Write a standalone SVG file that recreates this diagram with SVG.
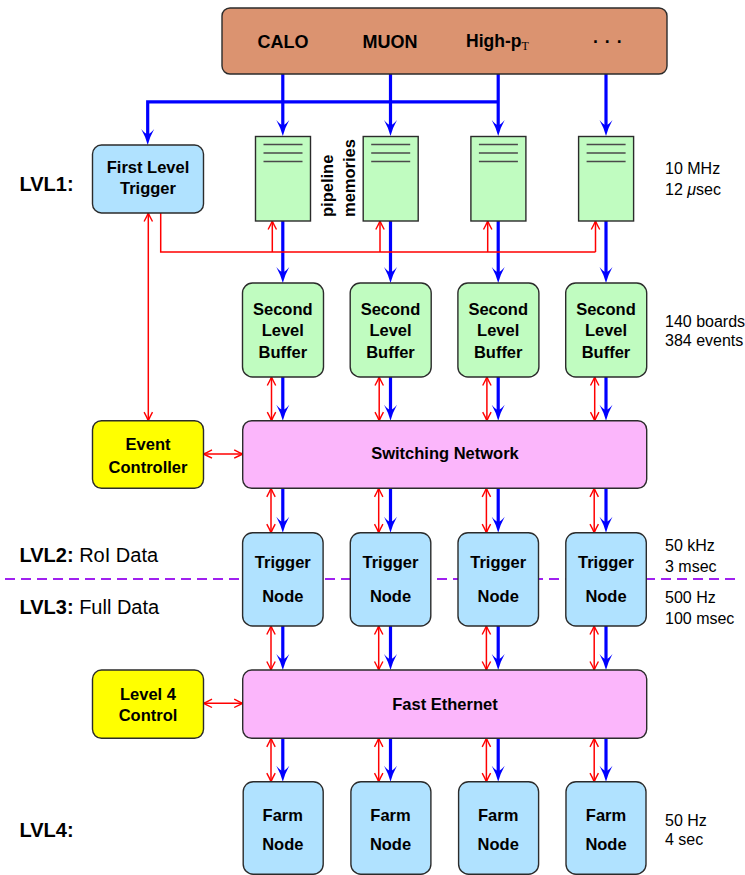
<svg xmlns="http://www.w3.org/2000/svg" width="745" height="875" viewBox="0 0 745 875">
  <style>
    text { font-family: "Liberation Sans", Arial, sans-serif; fill: #000; }
    .lbl { font-size: 16.5px; font-weight: bold; text-anchor: middle; }
    .vlbl { font-size: 16.5px; font-weight: bold; text-anchor: start; }
    .top { font-size: 18px; font-weight: bold; text-anchor: middle; }
    .topl { font-size: 17.5px; font-weight: bold; text-anchor: start; }
    .side { font-size: 16px; }
    .lvl { font-size: 20px; }
    .lvlb { font-weight: bold; }
    .box { stroke: #2b2b2b; stroke-width: 1.4; }
    .det { fill: #db9370; }
    .blue { fill: #b0e2ff; }
    .green { fill: #c0fcc0; }
    .pink { fill: #fbb6fb; }
    .yellow { fill: #ffff00; }
    .mline { stroke: #4a4a4a; stroke-width: 1.6; }
    .data { fill: none; stroke: #0000ff; stroke-width: 3.2; stroke-linejoin: miter; }
    .ctrl { fill: none; stroke: #ff0000; stroke-width: 1.5; }
    .arrB { marker-end: url(#headB); }
    .arrR { marker-end: url(#headR); }
    .arrRR { marker-start: url(#headR); marker-end: url(#headR); }
    .split { stroke: #a020f0; stroke-width: 1.8; stroke-dasharray: 10 6; fill: none; }
  </style>
  <defs>
    <!-- filled data-flow arrowhead; tip sits 10px beyond the path end -->
    <marker id="headB" markerUnits="userSpaceOnUse" viewBox="-17 -8 18 16" markerWidth="18" markerHeight="16" refX="-10" refY="0" orient="auto" overflow="visible">
      <path d="M0,0 Q-8,-2 -16,-6.5 Q-11,-2.5 -11,0 Q-11,2.5 -16,6.5 Q-8,2 0,0 Z" fill="#0000ff"/>
    </marker>
    <!-- open control-signal arrowhead -->
    <marker id="headR" markerUnits="userSpaceOnUse" viewBox="-10 -6 11 12" markerWidth="11" markerHeight="12" refX="0" refY="0" orient="auto-start-reverse" overflow="visible">
      <path d="M-8.5,-4.2 Q-3,-1.2 0,0 Q-3,1.2 -8.5,4.2" fill="none" stroke="#ff0000" stroke-width="1.4"/>
    </marker>
  </defs>

  <!-- level labels -->
  <g id="levels">
    <text class="lvl lvlb" x="19.5" y="190.5">LVL1:</text>
    <text class="lvl" x="19.5" y="561.7"><tspan class="lvlb">LVL2:</tspan> RoI Data</text>
    <text class="lvl" x="19.5" y="613.5"><tspan class="lvlb">LVL3:</tspan> Full Data</text>
    <text class="lvl lvlb" x="19.5" y="837">LVL4:</text>
  </g>

  <!-- rates and latencies -->
  <g id="rates">
    <text class="side" x="665" y="174">10 MHz</text>
    <text class="side" x="665" y="195">12 <tspan font-style="italic">μ</tspan>sec</text>
    <text class="side" x="665" y="327">140 boards</text>
    <text class="side" x="665" y="346">384 events</text>
    <text class="side" x="665" y="550.5">50 kHz</text>
    <text class="side" x="665" y="571.5">3 msec</text>
    <text class="side" x="665" y="602.7">500 Hz</text>
    <text class="side" x="665" y="624">100 msec</text>
    <text class="side" x="665" y="825.7">50 Hz</text>
    <text class="side" x="665" y="845">4 sec</text>
  </g>

  <!-- LVL2 / LVL3 boundary -->
  <line class="split" x1="5" y1="579" x2="740" y2="579"/>

  <!-- connectors -->
  <g id="connectors">
    <!-- detector readout -->
    <path class="data arrB" d="M282.8,74 V126"/>
    <path class="data arrB" d="M390.5,74 V126"/>
    <path class="data arrB" d="M498.2,74 V126"/>
    <path class="data arrB" d="M606,74 V126"/>
    <path class="data arrB" d="M498.2,101.8 H147.7 V135"/>
    <!-- pipeline to second level buffers -->
    <path class="data arrB" d="M282.8,221 V273"/>
    <path class="data arrB" d="M390.5,221 V273"/>
    <path class="data arrB" d="M498.2,221 V273"/>
    <path class="data arrB" d="M606,221 V273"/>
    <!-- level 1 accept -->
    <path class="ctrl" d="M160.7,213 V252 H595.5"/>
    <path class="ctrl arrR" d="M272.3,252 V221"/>
    <path class="ctrl arrR" d="M380,252 V221"/>
    <path class="ctrl arrR" d="M487.7,252 V221"/>
    <path class="ctrl arrR" d="M595.5,252 V221"/>
    <path class="ctrl arrRR" d="M148.3,213 V420.7"/>
    <!-- buffers to switching network -->
    <path class="data arrB" d="M282.8,377 V410.7"/>
    <path class="data arrB" d="M390.5,377 V410.7"/>
    <path class="data arrB" d="M498.2,377 V410.7"/>
    <path class="data arrB" d="M606,377 V410.7"/>
    <path class="ctrl arrRR" d="M271.5,377 V420.7"/>
    <path class="ctrl arrRR" d="M379.2,377 V420.7"/>
    <path class="ctrl arrRR" d="M486.9,377 V420.7"/>
    <path class="ctrl arrRR" d="M594.7,377 V420.7"/>
    <path class="ctrl arrRR" d="M203.5,454 H242.7"/>
    <!-- switching network to trigger nodes -->
    <path class="data arrB" d="M282.8,488.3 V522.7"/>
    <path class="data arrB" d="M390.5,488.3 V522.7"/>
    <path class="data arrB" d="M498.2,488.3 V522.7"/>
    <path class="data arrB" d="M606,488.3 V522.7"/>
    <path class="ctrl arrRR" d="M271,488.3 V532.7"/>
    <path class="ctrl arrRR" d="M378.7,488.3 V532.7"/>
    <path class="ctrl arrRR" d="M486.4,488.3 V532.7"/>
    <path class="ctrl arrRR" d="M594.2,488.3 V532.7"/>
    <!-- trigger nodes to fast ethernet -->
    <path class="data arrB" d="M282.8,626 V660"/>
    <path class="data arrB" d="M390.5,626 V660"/>
    <path class="data arrB" d="M498.2,626 V660"/>
    <path class="data arrB" d="M606,626 V660"/>
    <path class="ctrl arrRR" d="M271,626 V670"/>
    <path class="ctrl arrRR" d="M378.7,626 V670"/>
    <path class="ctrl arrRR" d="M486.4,626 V670"/>
    <path class="ctrl arrRR" d="M594.2,626 V670"/>
    <path class="ctrl arrRR" d="M203.5,703.3 H242.7"/>
    <!-- fast ethernet to farm nodes -->
    <path class="data arrB" d="M282.8,738.3 V771.7"/>
    <path class="data arrB" d="M390.5,738.3 V771.7"/>
    <path class="data arrB" d="M498.2,738.3 V771.7"/>
    <path class="data arrB" d="M606,738.3 V771.7"/>
    <path class="ctrl arrRR" d="M271,738.3 V781.7"/>
    <path class="ctrl arrRR" d="M378.7,738.3 V781.7"/>
    <path class="ctrl arrRR" d="M486.4,738.3 V781.7"/>
    <path class="ctrl arrRR" d="M594.2,738.3 V781.7"/>
  </g>

  <!-- detectors -->
  <g id="detectors">
    <rect class="box det" x="222" y="8" width="445" height="66" rx="8"/>
    <text class="top" x="283" y="48">CALO</text>
    <text class="top" x="390" y="48">MUON</text>
    <text class="topl" x="466" y="47">High-p<tspan font-family="'Liberation Serif', serif" font-weight="normal" font-size="12px" dy="2.5">T</tspan></text>
    <text class="topl" x="593" y="48" letter-spacing="6">···</text>
  </g>

  <g id="first-level-trigger">
    <rect class="box blue" x="92.5" y="145" width="111" height="68" rx="9"/>
    <text class="lbl" x="148" y="173">First Level</text>
    <text class="lbl" x="148" y="193.5">Trigger</text>
  </g>

  <!-- pipeline memories -->
  <g id="pipeline-1">
    <rect class="box green" x="255.5" y="136.5" width="55" height="84.5"/>
    <path class="mline" d="M263.5,144.5 H302.5 M263.5,153 H302.5 M263.5,161.5 H302.5"/>
  </g>
  <g id="pipeline-2">
    <rect class="box green" x="363.2" y="136.5" width="55" height="84.5"/>
    <path class="mline" d="M371.2,144.5 H410.2 M371.2,153 H410.2 M371.2,161.5 H410.2"/>
  </g>
  <g id="pipeline-3">
    <rect class="box green" x="470.9" y="136.5" width="55" height="84.5"/>
    <path class="mline" d="M478.9,144.5 H517.9 M478.9,153 H517.9 M478.9,161.5 H517.9"/>
  </g>
  <g id="pipeline-4">
    <rect class="box green" x="578.6" y="136.5" width="55" height="84.5"/>
    <path class="mline" d="M586.6,144.5 H625.6 M586.6,153 H625.6 M586.6,161.5 H625.6"/>
  </g>
  <g id="pipeline-label">
    <text class="vlbl" transform="translate(333,217) rotate(-90)">pipeline</text>
    <text class="vlbl" transform="translate(355,217) rotate(-90)">memories</text>
  </g>

  <!-- second level buffers -->
  <g id="slb-1">
    <rect class="box green" x="242.5" y="283" width="81" height="94" rx="10"/>
    <text class="lbl" x="282.8" y="315">Second</text>
    <text class="lbl" x="282.8" y="336">Level</text>
    <text class="lbl" x="282.8" y="357.5">Buffer</text>
  </g>
  <g id="slb-2">
    <rect class="box green" x="350.2" y="283" width="81" height="94" rx="10"/>
    <text class="lbl" x="390.5" y="315">Second</text>
    <text class="lbl" x="390.5" y="336">Level</text>
    <text class="lbl" x="390.5" y="357.5">Buffer</text>
  </g>
  <g id="slb-3">
    <rect class="box green" x="457.9" y="283" width="81" height="94" rx="10"/>
    <text class="lbl" x="498.2" y="315">Second</text>
    <text class="lbl" x="498.2" y="336">Level</text>
    <text class="lbl" x="498.2" y="357.5">Buffer</text>
  </g>
  <g id="slb-4">
    <rect class="box green" x="565.7" y="283" width="81" height="94" rx="10"/>
    <text class="lbl" x="606" y="315">Second</text>
    <text class="lbl" x="606" y="336">Level</text>
    <text class="lbl" x="606" y="357.5">Buffer</text>
  </g>

  <g id="event-controller">
    <rect class="box yellow" x="92.5" y="420.7" width="111" height="67.6" rx="9"/>
    <text class="lbl" x="148" y="450">Event</text>
    <text class="lbl" x="148" y="472.5">Controller</text>
  </g>
  <g id="switching-network">
    <rect class="box pink" x="242.7" y="420.7" width="404" height="67.6" rx="9"/>
    <text class="lbl" x="445" y="459">Switching Network</text>
  </g>

  <!-- trigger nodes -->
  <g id="tn-1">
    <rect class="box blue" x="242.6" y="532.7" width="80.5" height="93.3" rx="10"/>
    <text class="lbl" x="282.8" y="568.3">Trigger</text>
    <text class="lbl" x="282.8" y="602">Node</text>
  </g>
  <g id="tn-2">
    <rect class="box blue" x="350.3" y="532.7" width="80.5" height="93.3" rx="10"/>
    <text class="lbl" x="390.5" y="568.3">Trigger</text>
    <text class="lbl" x="390.5" y="602">Node</text>
  </g>
  <g id="tn-3">
    <rect class="box blue" x="458" y="532.7" width="80.5" height="93.3" rx="10"/>
    <text class="lbl" x="498.2" y="568.3">Trigger</text>
    <text class="lbl" x="498.2" y="602">Node</text>
  </g>
  <g id="tn-4">
    <rect class="box blue" x="565.8" y="532.7" width="80.5" height="93.3" rx="10"/>
    <text class="lbl" x="606" y="568.3">Trigger</text>
    <text class="lbl" x="606" y="602">Node</text>
  </g>

  <g id="level4-control">
    <rect class="box yellow" x="92.5" y="670" width="111" height="68.3" rx="9"/>
    <text class="lbl" x="148" y="700">Level 4</text>
    <text class="lbl" x="148" y="721">Control</text>
  </g>
  <g id="fast-ethernet">
    <rect class="box pink" x="242.7" y="670" width="404" height="68.3" rx="9"/>
    <text class="lbl" x="445" y="710">Fast Ethernet</text>
  </g>

  <!-- farm nodes -->
  <g id="farm-1">
    <rect class="box blue" x="243.2" y="781.7" width="80" height="92.5" rx="10"/>
    <text class="lbl" x="282.8" y="820.7">Farm</text>
    <text class="lbl" x="282.8" y="850">Node</text>
  </g>
  <g id="farm-2">
    <rect class="box blue" x="350.9" y="781.7" width="80" height="92.5" rx="10"/>
    <text class="lbl" x="390.5" y="820.7">Farm</text>
    <text class="lbl" x="390.5" y="850">Node</text>
  </g>
  <g id="farm-3">
    <rect class="box blue" x="458.6" y="781.7" width="80" height="92.5" rx="10"/>
    <text class="lbl" x="498.2" y="820.7">Farm</text>
    <text class="lbl" x="498.2" y="850">Node</text>
  </g>
  <g id="farm-4">
    <rect class="box blue" x="566" y="781.7" width="80" height="92.5" rx="10"/>
    <text class="lbl" x="606" y="820.7">Farm</text>
    <text class="lbl" x="606" y="850">Node</text>
  </g>
</svg>
